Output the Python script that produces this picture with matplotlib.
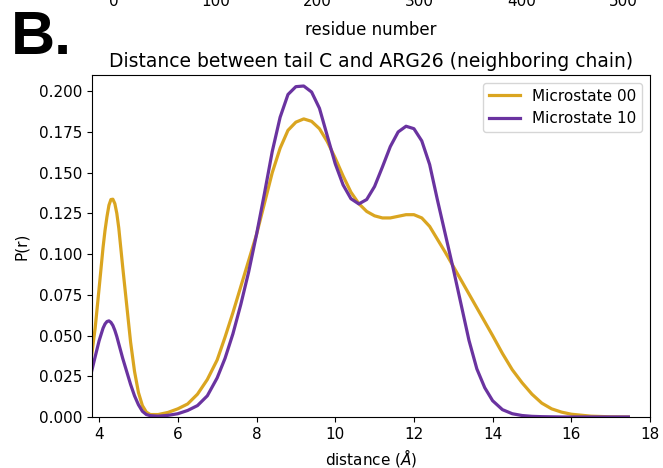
import matplotlib
matplotlib.use("Agg")
import matplotlib.pyplot as plt

# distance grid (Angstrom) and probability curves
distance = [3.8, 3.9, 4.0, 4.1, 4.15, 4.2, 4.25, 4.3, 4.35, 4.4, 4.45, 4.5, 4.6, 4.7,
            4.8, 4.9, 5.0, 5.1, 5.2, 5.3, 5.5, 5.75, 6.0, 6.25, 6.5, 6.75,
            7.0, 7.2, 7.4, 7.6, 7.8, 8.0, 8.2, 8.4, 8.6, 8.8, 9.0, 9.2, 9.4, 9.6,
            9.8, 10.0, 10.2, 10.4, 10.6, 10.8, 11.0, 11.2, 11.4, 11.6, 11.8, 12.0,
            12.2, 12.4, 12.6, 12.8, 13.0, 13.2, 13.4, 13.6, 13.8, 14.0,
            14.25, 14.5, 14.75, 15.0, 15.25, 15.5, 15.75, 16.0, 16.5, 17.0, 17.45]

micro00 = [0.036, 0.0546, 0.079, 0.104, 0.1145, 0.123, 0.130, 0.1335, 0.1337, 0.131,
           0.125, 0.116, 0.092, 0.069, 0.046, 0.028, 0.015, 0.007, 0.003, 0.0015,
           0.0015, 0.0028, 0.005, 0.008, 0.014, 0.023,
           0.035, 0.049, 0.064, 0.080, 0.096, 0.112, 0.131, 0.150, 0.165, 0.176,
           0.181, 0.183, 0.1815, 0.177, 0.169, 0.159, 0.148, 0.138, 0.131, 0.1262,
           0.1235, 0.1222, 0.1222, 0.1232, 0.1242, 0.1242, 0.1222, 0.117, 0.109,
           0.101, 0.0925, 0.084, 0.0755, 0.067, 0.0585, 0.050,
           0.039, 0.029, 0.021, 0.014, 0.0085, 0.005, 0.003, 0.0017, 0.0005, 0.0001, 0.0]

micro10 = [0.027, 0.037, 0.0468, 0.0545, 0.0571, 0.0586, 0.0590, 0.0581, 0.0562,
           0.0532, 0.0494, 0.0449, 0.036, 0.028, 0.020, 0.013, 0.0075, 0.0035, 0.0015,
           0.0008, 0.0005, 0.001, 0.002, 0.004, 0.007, 0.013,
           0.024, 0.036, 0.051, 0.069, 0.089, 0.112, 0.137, 0.163, 0.184, 0.198,
           0.2028, 0.2032, 0.1995, 0.1895, 0.1725, 0.1555, 0.1425, 0.1340, 0.1308,
           0.1335, 0.1415, 0.1535, 0.1660, 0.1750, 0.1785, 0.177, 0.1695, 0.155, 0.133,
           0.112, 0.091, 0.069, 0.047, 0.0295, 0.018, 0.010,
           0.0045, 0.002, 0.0009, 0.0004, 0.0002, 0.0001, 0.0, 0.0, 0.0, 0.0, 0.0]

top_ticks = [0, 100, 200, 300, 400, 500]

plt.rcParams['font.size'] = 11

fig = plt.figure(figsize=(6.63, 4.68), dpi=100)
ax = fig.add_axes([0.1388, 0.109, 0.8416, 0.7309])

ax.plot(distance, micro00, color='#DAA520', lw=2.3, label='Microstate 00')
ax.plot(distance, micro10, color='#6A33A0', lw=2.3, label='Microstate 10')
ax.set_xlim(3.82, 18)
ax.set_ylim(0, 0.21)
ax.set_xticks([4, 6, 8, 10, 12, 14, 16, 18])
ax.set_yticks([0.0, 0.025, 0.05, 0.075, 0.1, 0.125, 0.15, 0.175, 0.2])
ax.set_xlabel(r'distance ($\AA$)')
ax.set_ylabel('P(r)', labelpad=7.5)
ax.set_title('Distance between tail C and ARG26 (neighboring chain)', fontsize=13.5)
ax.legend(loc='upper right')

# remnant of the panel above (cut off by the figure edge)
ax_top = fig.add_axes([0.1388, 1.0 + 16 / 468, 0.8416, 0.2])
ax_top.set_xlim(-21, 526)
ax_top.set_xticks(top_ticks)
ax_top.set_yticks([])
ax_top.set_xlabel('residue number', fontsize=12, labelpad=9)

fig.text(11 / 663, 1 - 54 / 468, 'B.', family='Liberation Sans', weight='bold',
         fontsize=44, va='baseline', ha='left')

fig.savefig('out.png', dpi=100)
